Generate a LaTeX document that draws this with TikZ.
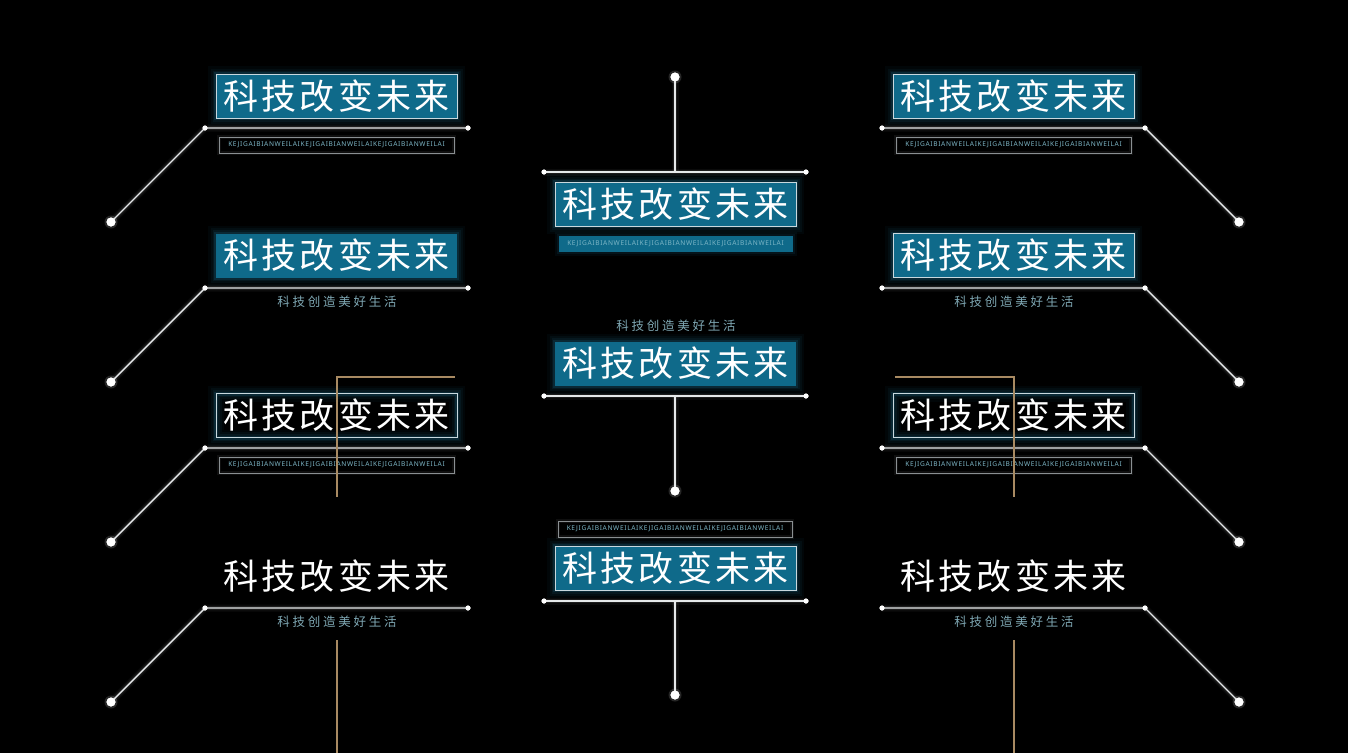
\documentclass[tikz,border=0pt]{standalone}
\usepackage{fontspec}
\newfontfamily\cjkT[LetterSpace=9]{Noto Sans CJK SC}
\newfontfamily\cjkS[LetterSpace=22]{Noto Sans CJK SC}
\newfontfamily\latS[LetterSpace=10]{Noto Sans}
\definecolor{tealf}{HTML}{0F6A8A}
\definecolor{boxln}{HTML}{C8D8DE}
\definecolor{glowc}{HTML}{2FA8D8}
\definecolor{subtx}{HTML}{7FA8B4}
\definecolor{smtx}{HTML}{7DB6C6}
\definecolor{subln}{HTML}{8A8F92}
\definecolor{tanc}{HTML}{A88A62}
\definecolor{wirec}{HTML}{E6E9EA}
\tikzset{
  ttext/.style={text=white, font=\cjkT\fontsize{35}{35}\selectfont, inner sep=0pt, minimum width=241pt, minimum height=44pt, align=center},
  glowbox/.style={preaction={draw=glowc, line width=16pt, draw opacity=0.04},
                  preaction={draw=glowc, line width=11pt, draw opacity=0.05},
                  preaction={draw=glowc, line width=7pt, draw opacity=0.07},
                  preaction={draw=glowc, line width=4pt, draw opacity=0.12}},
  tfill/.style={ttext, fill=tealf, glowbox},
  tfillb/.style={ttext, fill=tealf, glowbox, draw=boxln, line width=1pt},
  tline/.style={ttext, glowbox, draw=boxln, line width=1pt},
  smbox/.style={draw=subln, line width=1pt, minimum width=235pt, minimum height=16pt, inner sep=0pt, text=smtx, font=\latS\fontsize{6.6}{6.6}\selectfont,
     preaction={draw=white, line width=4pt, draw opacity=0.06}},
  smfill/.style={fill=tealf, minimum width=234pt, minimum height=16pt, inner sep=0pt, text=smtx, font=\latS\fontsize{6.6}{6.6}\selectfont,
     preaction={draw=glowc, line width=8pt, draw opacity=0.05}, preaction={draw=glowc, line width=4pt, draw opacity=0.08}},
  subtext/.style={text=subtx, font=\cjkS\fontsize{12.5}{12.5}\selectfont, inner sep=0pt},
  wire/.style={draw=wirec, line width=1.4pt, preaction={draw=white, line width=7pt, draw opacity=0.04}, preaction={draw=white, line width=4pt, draw opacity=0.08}},
  tanline/.style={draw=tanc, line width=1.1pt},
  sdot/.style={circle, fill=white, inner sep=0pt, minimum size=5pt},
  bdot/.style={circle, fill=white, inner sep=0pt, minimum size=9pt},
}
\newcommand{\kjtext}{KEJIGAIBIANWEILAIKEJIGAIBIANWEILAIKEJIGAIBIANWEILAI}
\begin{document}
\begin{tikzpicture}[x=1pt, y=-1pt]
\fill[black] (0,0) rectangle (1348,753);
\useasboundingbox (0,0) rectangle (1348,753);

% ---------- tan line coordinates ----------
\coordinate (tl1) at (337,377); \coordinate (tl2) at (455,377); \coordinate (tl3) at (337,497);
\coordinate (tl4) at (337,640); \coordinate (tl5) at (337,753);
\coordinate (tr1) at (1014,377); \coordinate (tr2) at (895,377); \coordinate (tr3) at (1014,497);
\coordinate (tr4) at (1014,640); \coordinate (tr5) at (1014,753);

% ---------- side wires ----------
\foreach \r/\y in {1/128,2/288,3/448,4/608}{
  \node[sdot] (La\r) at (205,\y) {};
  \node[sdot] (Lb\r) at (468,\y) {};
  \node[bdot] (Lc\r) at (111,\y+94) {};
  \node[sdot] (Ra\r) at (1145,\y) {};
  \node[sdot] (Rb\r) at (882,\y) {};
  \node[bdot] (Rc\r) at (1239,\y+94) {};
  \draw[wire] (Lc\r.center) -- (La\r.center) -- (Lb\r.center);
  \draw[wire] (Rc\r.center) -- (Ra\r.center) -- (Rb\r.center);
  \fill[white, opacity=0.15] (Lc\r) circle (6.5pt) (Rc\r) circle (6.5pt);
  \fill[white] (La\r) circle (2.5pt) (Lb\r) circle (2.5pt) (Lc\r) circle (4.5pt);
  \fill[white] (Ra\r) circle (2.5pt) (Rb\r) circle (2.5pt) (Rc\r) circle (4.5pt);
}

\node[tfillb] (L1) at (336.5,96) {科技改变未来};
\node[smbox] (L1s) at (336.5,145) {\kjtext};
\node[tfill] (L2) at (336.5,255.5) {科技改变未来};
\node[subtext] (L2s) at (337,302) {科技创造美好生活};
\node[tline] (L3) at (336.5,415.5) {科技改变未来};
\node[smbox] (L3s) at (336.5,465) {\kjtext};
\node[ttext] (L4) at (336.5,576) {科技改变未来};
\node[subtext] (L4s) at (337,622) {科技创造美好生活};

\node[tfillb] (R1) at (1013.5,96) {科技改变未来};
\node[smbox] (R1s) at (1013.5,145) {\kjtext};
\node[tfillb] (R2) at (1013.5,255.5) {科技改变未来};
\node[subtext] (R2s) at (1014,302) {科技创造美好生活};
\node[tline] (R3) at (1013.5,415.5) {科技改变未来};
\node[smbox] (R3s) at (1013.5,465) {\kjtext};
\node[ttext] (R4) at (1013.5,576) {科技改变未来};
\node[subtext] (R4s) at (1014,622) {科技创造美好生活};

\draw[tanline] (tl2) -- (tl1) -- (tl3);
\draw[tanline] (tl4) -- (tl5);
\draw[tanline] (tr2) -- (tr1) -- (tr3);
\draw[tanline] (tr4) -- (tr5);

% ---------- centre column ----------
\node[sdot] (Ca1) at (544,172) {};
\node[sdot] (Cb1) at (806,172) {};
\node[bdot] (Cc1) at (675,77) {};
\coordinate (Cm1) at (675,172);
\draw[wire] (Ca1.center) -- (Cb1.center);
\draw[wire] (Cc1.center) -- (Cm1);
\node[tfillb] (C1) at (675.5,204) {科技改变未来};
\node[smfill] (C1s) at (675.5,244) {\kjtext};

\node[subtext] (C2s) at (676,326) {科技创造美好生活};
\node[tfill] (C2) at (675.5,363.5) {科技改变未来};
\node[sdot] (Ca2) at (544,396) {};
\node[sdot] (Cb2) at (806,396) {};
\node[bdot] (Cc2) at (675,491) {};
\coordinate (Cm2) at (675,396);
\draw[wire] (Ca2.center) -- (Cb2.center);
\draw[wire] (Cm2) -- (Cc2.center);

\node[smbox, minimum width=234pt] (C3s) at (675,529) {\kjtext};
\node[tfillb] (C3) at (675.5,568) {科技改变未来};
\node[sdot] (Ca3) at (544,601) {};
\node[sdot] (Cb3) at (806,601) {};
\node[bdot] (Cc3) at (675,695) {};
\coordinate (Cm3) at (675,601);
\draw[wire] (Ca3.center) -- (Cb3.center);
\draw[wire] (Cm3) -- (Cc3.center);
\foreach \n in {Cc1,Cc2,Cc3}{\fill[white, opacity=0.15] (\n) circle (6.5pt);}
\foreach \n in {Ca1,Cb1,Ca2,Cb2,Ca3,Cb3}{\fill[white] (\n) circle (2.5pt);}
\foreach \n in {Cc1,Cc2,Cc3}{\fill[white] (\n) circle (4.5pt);}
\end{tikzpicture}
\end{document}
